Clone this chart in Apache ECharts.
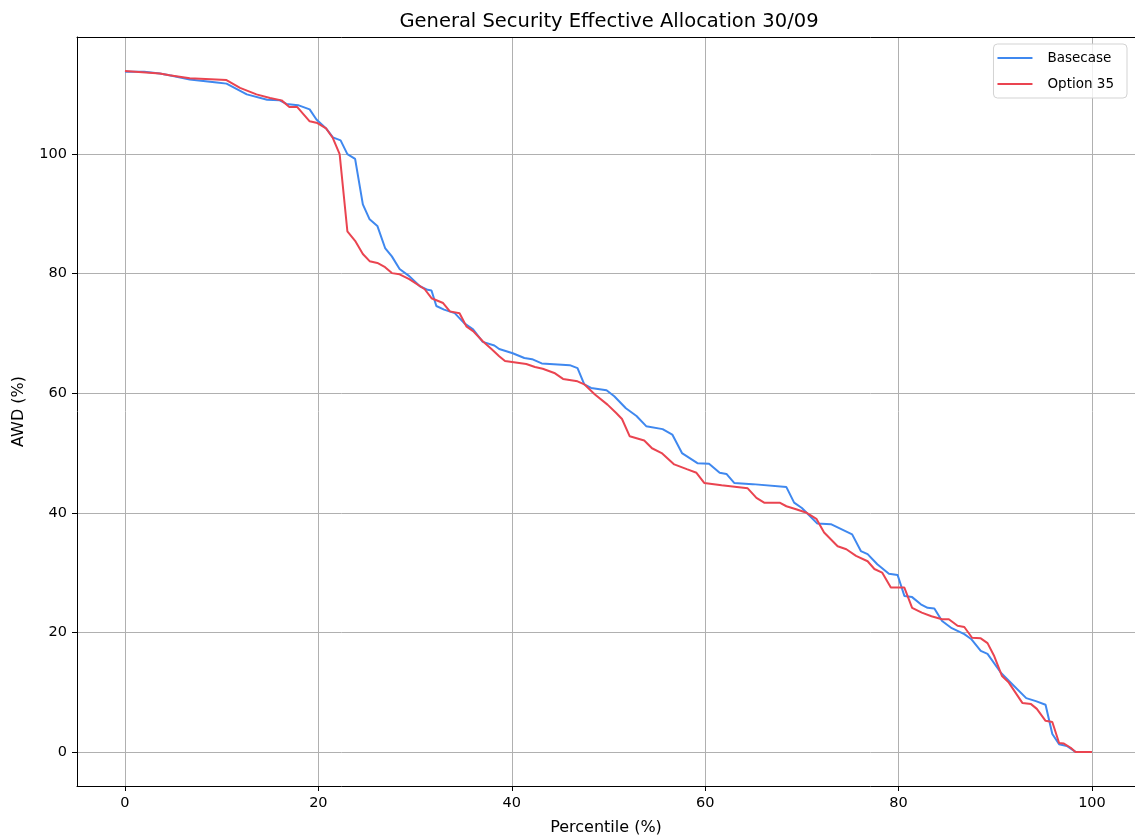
<!DOCTYPE html>
<html>
<head>
<meta charset="utf-8">
<script src="https://cdn.jsdelivr.net/npm/echarts@6/dist/echarts.min.js"></script>
<style>
  html, body { margin: 0; padding: 0; background: #fff; }
  #chart { width: 1135px; height: 836px; }
</style>
</head>
<body>
<div id="chart"></div>
<script>
// 数据：百分位 / AWD
const basePct = [0, 2, 3.6, 4.6, 6.7, 9.5, 10.5, 12.6, 14.7, 16, 16.7, 17.9, 19.1, 19.8, 20.8, 21.5, 22.3, 23.0, 23.8,
  24.6, 25.3, 26.1, 26.9, 27.6, 28.4, 29.4, 30.5, 31.3, 31.7, 32.2, 33, 34.1, 35.1, 36.0, 37.0, 38.2, 38.7, 40.1,
  41.3, 42.1, 43.1, 46.0, 46.8, 47.5, 48.2, 49.8, 50.6, 51.8, 52.9, 53.9, 55.6, 56.6, 57.6, 59.2, 60.4, 61.5, 62.2,
  63, 64.9, 68.4, 69.2, 70.0, 70.8, 71.6, 73.0, 75.2, 76.1, 76.8, 77.8, 79.0, 79.9, 80.6, 81.4, 82.3, 83.0, 83.7,
  84.5, 85.5, 86.8, 87.5, 88.5, 89.2, 90.6, 91.4, 93.2, 94.2, 95.2, 95.9, 96.6, 97.4, 98.3, 100];
const baseAwd = [113.8, 113.8, 113.5, 113.2, 112.5, 112.0, 111.8, 110.0, 109.1, 109.0, 108.4, 108.2, 107.5, 105.8,
  104.3, 102.8, 102.3, 100.0, 99.2, 91.6, 89.1, 88.0, 84.3, 82.9, 80.8, 79.6, 77.9, 77.3, 77.2, 74.6, 74.0, 73.4,
  71.7, 70.7, 68.6, 68.0, 67.4, 66.7, 65.9, 65.7, 65.0, 64.7, 64.2, 61.5, 60.9, 60.5, 59.5, 57.5, 56.2, 54.5, 54.0,
  53.1, 50.0, 48.3, 48.2, 46.7, 46.5, 45.0, 44.8, 44.3, 41.7, 40.8, 39.5, 38.2, 38.1, 36.4, 33.6, 33.1, 31.4, 29.8,
  29.6, 26.1, 25.9, 24.7, 24.1, 24.0, 21.9, 20.7, 19.7, 18.9, 16.9, 16.4, 13.2, 11.9, 9.0, 8.5, 7.9, 3.0, 1.3, 1.0,
  0, 0];

const optPct = [0, 3.6, 4.6, 6.7, 10.5, 11.9, 13.6, 15.0, 16.2, 17.0, 17.8, 19.1, 19.9, 20.8, 21.5, 22.2, 23.0, 23.8,
  24.6, 25.3, 26.1, 26.9, 27.6, 28.4, 29.4, 31.0, 31.7, 32.9, 33.6, 34.6, 35.3, 36.0, 37.0, 37.9, 38.7, 39.3, 41.5,
  42.4, 43.2, 44.4, 45.3, 46.8, 47.5, 48.6, 49.9, 50.8, 51.4, 52.2, 53.7, 54.5, 55.5, 56.8, 58.1, 59.1, 59.9, 61.7,
  64.4, 65.3, 66.1, 67.7, 68.4, 69.4, 70.5, 71.5, 72.3, 73.7, 74.6, 75.6, 76.8, 77.5, 78.3, 79.2, 80.6, 81.4, 82.4,
  83.4, 84.5, 85.2, 86.1, 86.8, 87.6, 88.5, 89.2, 89.9, 90.7, 91.4, 92.8, 93.7, 94.3, 95.2, 95.9, 96.6, 97.1, 97.8,
  98.3, 100];
const optAwd = [113.9, 113.5, 113.2, 112.7, 112.4, 111.1, 110.0, 109.4, 109.0, 107.9, 107.9, 105.5, 105.2, 104.3,
  102.7, 100.0, 87.1, 85.5, 83.3, 82.1, 81.8, 81.1, 80.1, 79.9, 79.1, 77.4, 75.9, 75.1, 73.7, 73.4, 71.2, 70.4, 68.7,
  67.4, 66.2, 65.4, 64.9, 64.4, 64.1, 63.4, 62.4, 62.0, 61.5, 59.8, 58.1, 56.7, 55.7, 52.8, 52.1, 50.8, 50.0, 48.1,
  47.3, 46.7, 45.0, 44.6, 44.1, 42.5, 41.7, 41.7, 41.1, 40.6, 40.0, 39.0, 36.7, 34.4, 33.9, 32.8, 31.9, 30.6, 30.0,
  27.5, 27.5, 24.1, 23.3, 22.7, 22.2, 22.2, 21.1, 20.9, 19.1, 19.0, 18.2, 16.0, 12.7, 11.6, 8.2, 8.0, 7.2, 5.2, 5.0,
  1.5, 1.4, 0.7, 0, 0];

const xTicks = [0, 20, 40, 60, 80, 100];
const yTicks = [0, 20, 40, 60, 80, 100];

const zip = (xs, ys) => xs.map((x, i) => [x, ys[i]]);

const FONT = "DejaVu Sans";
const GRID_COLOR = "#b0b0b0";
const AXIS_COLOR = "#000";
// 原图右侧被裁切：x 轴范围 -5..105 只显示到约 104.45
const X_MIN = -4.96;
const X_MAX = 104.45;

const chart = echarts.init(document.getElementById("chart"), null, { renderer: "canvas" });

chart.setOption({
  backgroundColor: "#fff",
  animation: false,
  textStyle: { fontFamily: FONT },
  title: {
    text: "General Security Effective Allocation 30/09",
    left: 604,
    textAlign: "center",
    top: 7,
    textStyle: { fontFamily: FONT, fontSize: 19.5, fontWeight: "normal", color: "#000" },
  },
  grid: {
    left: 77, top: 37, right: 0, height: 749,
    show: false,
    containLabel: false,
    outerBoundsMode: "none",
  },
  legend: {
    orient: "vertical",
    right: 8, top: 44,
    icon: "rect", itemWidth: 35, itemHeight: 2, itemGap: 12,
    padding: [7, 13, 7, 4],
    borderColor: "#d3d3d3", borderWidth: 1, borderRadius: 4,
    backgroundColor: "rgba(255,255,255,0.8)",
    textStyle: { fontFamily: FONT, fontSize: 13.5, color: "#000", padding: [0, 0, 0, 10] },
  },
  xAxis: [
    {
      type: "value", min: X_MIN, max: X_MAX,
      name: "Percentile (%)", nameLocation: "middle", nameGap: 34,
      nameTextStyle: { fontFamily: FONT, fontSize: 16, color: "#000" },
      axisLine: { show: true, onZero: false, lineStyle: { color: AXIS_COLOR, width: 1 } },
      axisTick: { show: true, length: 5, customValues: xTicks, lineStyle: { color: AXIS_COLOR } },
      axisLabel: { customValues: xTicks, margin: 10, fontFamily: FONT, fontSize: 14.5, color: "#000" },
      splitLine: { show: true, lineStyle: { color: GRID_COLOR, width: 1 } },
    },
    {
      // 顶部边框
      type: "value", position: "top", min: X_MIN, max: X_MAX,
      axisLine: { show: true, onZero: false, lineStyle: { color: AXIS_COLOR, width: 1 } },
      axisTick: { show: false }, axisLabel: { show: false }, splitLine: { show: false },
    },
  ],
  yAxis: {
    type: "value", min: -5.7, max: 119.6,
    name: "AWD (%)", nameLocation: "middle", nameGap: 50, nameRotate: 90,
    nameTextStyle: { fontFamily: FONT, fontSize: 16, color: "#000" },
    axisLine: { show: true, onZero: false, lineStyle: { color: AXIS_COLOR, width: 1 } },
    axisTick: { show: true, length: 5, customValues: yTicks, lineStyle: { color: AXIS_COLOR } },
    axisLabel: { customValues: yTicks, margin: 10, fontFamily: FONT, fontSize: 14.5, color: "#000" },
    splitLine: { show: true, lineStyle: { color: GRID_COLOR, width: 1 } },
  },
  series: [
    {
      name: "Basecase", type: "line", data: zip(basePct, baseAwd),
      showSymbol: false, color: "#3f88ef",
      lineStyle: { width: 2, color: "#3f88ef" },
    },
    {
      name: "Option 35", type: "line", data: zip(optPct, optAwd),
      showSymbol: false, color: "#ea4450",
      lineStyle: { width: 2, color: "#ea4450" },
    },
  ],
});
</script>
</body>
</html>
